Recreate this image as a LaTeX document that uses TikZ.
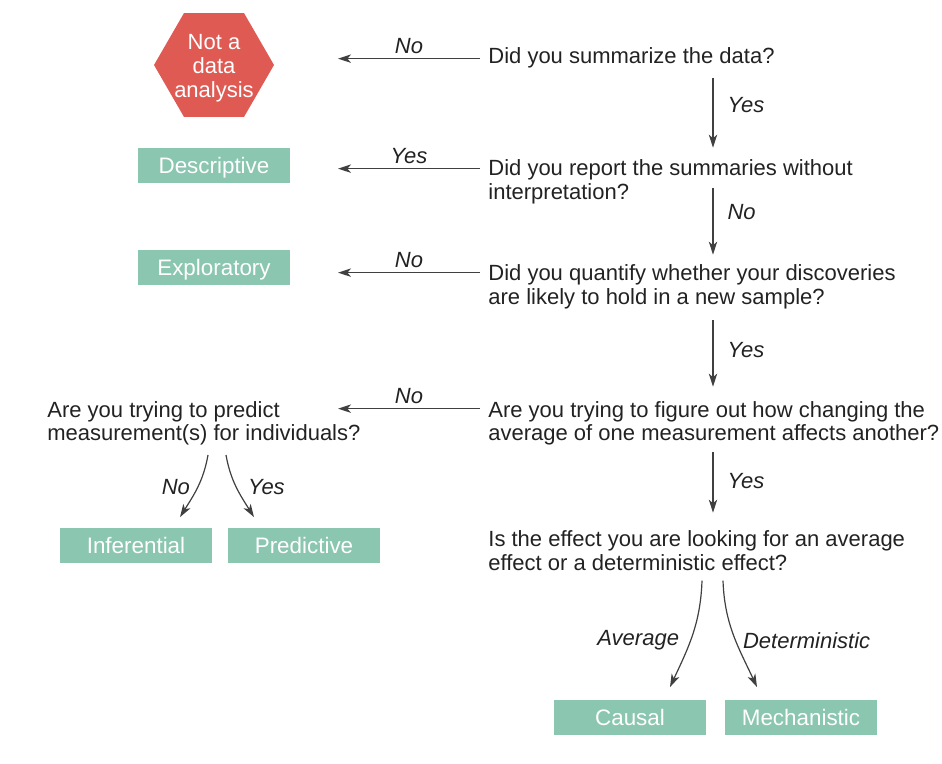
\documentclass[tikz,border=0pt]{standalone}
\usepackage{fontspec}
\setmainfont{Liberation Sans}
\usepackage{xcolor}
\usepackage{tikz}
\usetikzlibrary{shapes.geometric,arrows.meta}
\definecolor{boxgreen}{HTML}{8AC6B0}
\definecolor{hexred}{HTML}{E05A54}
\definecolor{ink}{HTML}{222222}

\begin{document}
\begin{tikzpicture}[
  x=0.5pt, y=-0.5pt,
  every node/.style={text=ink},
  quest/.style={align=left, anchor=base west, inner sep=0pt, font=\fontsize{11}{12}\selectfont},
  res/.style={fill=boxgreen, text=white, minimum width=76pt, minimum height=17.5pt, inner sep=0pt, text height=8pt, text depth=0pt, font=\fontsize{11.2}{12}\selectfont},
  nonda/.style={regular polygon, regular polygon sides=6, minimum size=60pt, inner sep=0pt, fill=hexred},
  hexlbl/.style={text=white, align=center, yshift=-1.5pt, font=\fontsize{11}{12}\selectfont},
  arr/.style={draw=black!75, line width=0.6pt, -{Stealth[length=6.5pt,width=4.2pt,inset=1.8pt]}},
  ans/.style={font=\fontsize{11}{12}\selectfont\itshape, inner sep=2.5pt}]
\useasboundingbox (0,0) rectangle (942,764);
\coordinate (axis) at (713,0);
\coordinate (tip) at (338,0);
% questions (placed on the baseline of their last line)
\node[quest] (q1) at (488,64)  {Did you summarize the data?};
\node[quest] (q2) at (488,200) {Did you report the summaries without\\interpretation?};
\node[quest] (q3) at (488,305) {Did you quantify whether your discoveries\\are likely to hold in a new sample?};
\node[quest] (q4) at (488,441) {Are you trying to figure out how changing the\\average of one measurement affects another?};
\node[quest] (q6) at (488,570) {Is the effect you are looking for an average\\effect or a deterministic effect?};
\node[quest] (q5) at (47,441)  {Are you trying to predict\\measurement(s) for individuals?};
% answers
\node[nonda, label={[hexlbl]center:Not a\\data\\analysis}] (nda) at (214,65) {};
\node[res] (desc)   at (214,166) {Descriptive};
\node[res] (expl)   at (214,268) {Exploratory};
\node[res] (infer)  at (136,545) {Inferential};
\node[res] (pred)   at (304,545) {Predictive};
\node[res] (causal) at (630,717) {Causal};
\node[res] (mech)   at (801,717) {Mechanistic};
% side arrows
\draw[arr] ([shift={(-4pt,-5.5pt)}]q1.north west) coordinate (s1) -- (s1 -| tip) node[ans, midway, above=-0.5pt] {No};
\draw[arr] ([shift={(-4pt,-4.5pt)}]q2.north west) coordinate (s2) -- (s2 -| tip) node[ans, midway, above=-0.5pt] {Yes};
\draw[arr] ([shift={(-4pt,-4pt)}]q3.north west) coordinate (s3) -- (s3 -| tip) node[ans, midway, above=-0.5pt] {No};
\draw[arr] ([shift={(-4pt,-4pt)}]q4.north west) coordinate (s4) -- (s4 -| tip) node[ans, midway, above=-0.5pt] {No};
% down the right column
\draw[arr, shorten <=4.5pt, shorten >=6pt] (q1.south -| axis) -- (q2.north -| axis) node[ans, pos=0.4, right=4.5pt] {Yes};
\draw[arr, shorten <=14pt, shorten >=5pt] (q2.north -| axis) -- (q3.north -| axis) node[ans, pos=0.5, right=4.5pt] {No};
\draw[arr, shorten <=5pt, shorten >=7pt] (q3.south -| axis) -- (q4.north -| axis) node[ans, pos=0.44, right=4.5pt] {Yes};
\draw[arr, shorten <=3pt, shorten >=8.5pt] (q4.south -| axis) -- (q6.north -| axis) node[ans, pos=0.42, right=4.5pt] {Yes};
% forks
\draw[arr] ([shift={(80.5pt,-4.5pt)}]q5.south west) to[out=-100,in=58] node[ans, pos=0.5, left=1pt] {No} ([shift={(22pt,5pt)}]infer.north);
\draw[arr] ([shift={(89.5pt,-4.5pt)}]q5.south west) to[out=-80,in=122] node[ans, pos=0.5, right=3pt] {Yes} ([shift={(-25pt,5pt)}]pred.north);
\draw[arr] ([shift={(107pt,-5pt)}]q6.south west) to[out=-92,in=65] node[ans, pos=0.55, left=3pt] {Average} ([shift={(20pt,6pt)}]causal.north);
\draw[arr] ([shift={(117.5pt,-5pt)}]q6.south west) to[out=-88,in=115] node[ans, pos=0.55, right=1pt] {Deterministic} ([shift={(-22pt,6pt)}]mech.north);
\end{tikzpicture}
\end{document}
